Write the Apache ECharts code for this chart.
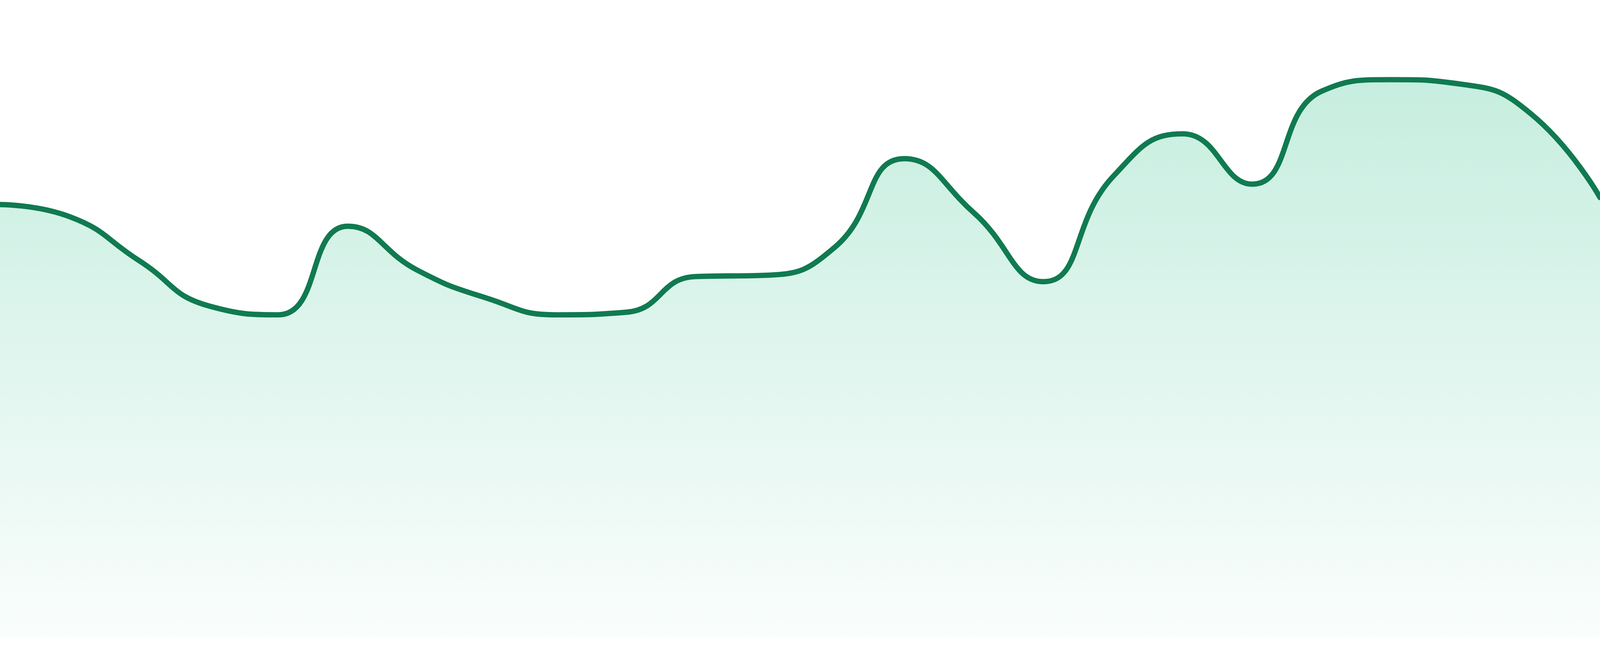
<!DOCTYPE html>
<html>
<head>
<meta charset="utf-8">
<script src="https://cdn.jsdelivr.net/npm/echarts@6/dist/echarts.min.js"></script>
<style>
  html, body { margin: 0; padding: 0; background: #ffffff; overflow: hidden; }
  #chart { width: 100vw; height: 100vh; }
</style>
</head>
<body>
<div id="chart"></div>
<script>
// Categories (24 evenly spaced points, no labels shown in the reference)
const categories = [
  'P1','P2','P3','P4','P5','P6','P7','P8','P9','P10','P11','P12',
  'P13','P14','P15','P16','P17','P18','P19','P20','P21','P22','P23','P24'
];

// Series values
const values = [
  67.9, 66.0, 59.1, 52.0, 50.6, 64.5, 57.6, 53.2, 50.6, 51.0, 56.6, 56.8,
  61.2, 75.1, 66.6, 55.8, 72.3, 79.0, 71.1, 85.7, 87.5, 86.8, 82.2, 69.0
];

const yMin = 0;
const yMax = 100;

// scale so the drawing matches a 4800 x 1680 reference regardless of CSS pixel ratio
const k = window.innerWidth / 4800;

const chart = echarts.init(document.getElementById('chart'), null, { renderer: 'canvas' });

chart.setOption({
  animation: false,
  backgroundColor: '#ffffff',
  grid: { left: 0, right: 0, top: 0, bottom: (48 / 1680 * 100) + '%', containLabel: false },
  xAxis: {
    type: 'category',
    data: categories,
    boundaryGap: false,
    show: false
  },
  yAxis: {
    type: 'value',
    min: yMin,
    max: yMax,
    show: false
  },
  series: [{
    type: 'line',
    data: values,
    smooth: true,
    symbol: 'none',
    lineStyle: { color: '#107a50', width: 16 * k, cap: 'round' },
    areaStyle: {
      color: new echarts.graphic.LinearGradient(0, 0, 0, 1, [
        { offset: 0, color: 'rgba(22, 185, 125, 0.35)' },
        { offset: 1, color: 'rgba(22, 185, 125, 0.03)' }
      ])
    }
  }]
});
</script>
</body>
</html>
